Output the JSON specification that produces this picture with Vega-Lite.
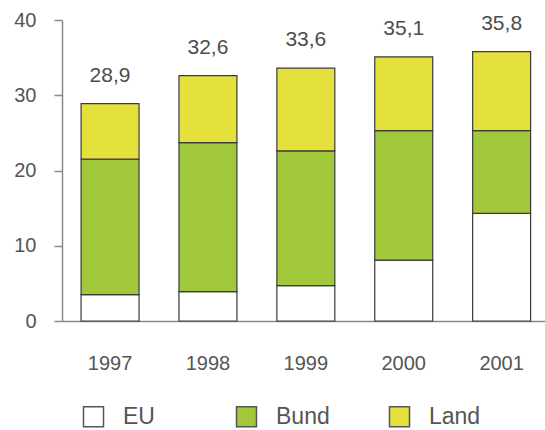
{
  "$schema": "https://vega.github.io/schema/vega-lite/v6.json",
  "width": 483,
  "height": 301,
  "autosize": {"type": "none"},
  "padding": {"left": 62, "top": 20, "right": 0, "bottom": 109},
  "background": "#ffffff",
  "config": {"view": {"stroke": null}, "font": "Liberation Sans"},
  "datasets": {
    "parts": [
      {"Jahr": "1997", "Typ": "EU", "Rang": 1, "Wert": 3.5},
      {"Jahr": "1997", "Typ": "Bund", "Rang": 2, "Wert": 18.0},
      {"Jahr": "1997", "Typ": "Land", "Rang": 3, "Wert": 7.4},
      {"Jahr": "1998", "Typ": "EU", "Rang": 1, "Wert": 3.9},
      {"Jahr": "1998", "Typ": "Bund", "Rang": 2, "Wert": 19.8},
      {"Jahr": "1998", "Typ": "Land", "Rang": 3, "Wert": 8.9},
      {"Jahr": "1999", "Typ": "EU", "Rang": 1, "Wert": 4.7},
      {"Jahr": "1999", "Typ": "Bund", "Rang": 2, "Wert": 17.9},
      {"Jahr": "1999", "Typ": "Land", "Rang": 3, "Wert": 11.0},
      {"Jahr": "2000", "Typ": "EU", "Rang": 1, "Wert": 8.1},
      {"Jahr": "2000", "Typ": "Bund", "Rang": 2, "Wert": 17.2},
      {"Jahr": "2000", "Typ": "Land", "Rang": 3, "Wert": 9.8},
      {"Jahr": "2001", "Typ": "EU", "Rang": 1, "Wert": 14.3},
      {"Jahr": "2001", "Typ": "Bund", "Rang": 2, "Wert": 11.0},
      {"Jahr": "2001", "Typ": "Land", "Rang": 3, "Wert": 10.5}
    ],
    "totals": [
      {"Jahr": "1997", "Summe": 28.9, "Label": "28,9"},
      {"Jahr": "1998", "Summe": 32.6, "Label": "32,6"},
      {"Jahr": "1999", "Summe": 33.6, "Label": "33,6"},
      {"Jahr": "2000", "Summe": 35.1, "Label": "35,1"},
      {"Jahr": "2001", "Summe": 35.8, "Label": "35,8"}
    ]
  },
  "layer": [
    {
      "data": {"name": "parts"},
      "mark": {"type": "bar", "stroke": "#3a3a3a", "strokeWidth": 1.2},
      "encoding": {
        "x": {
          "field": "Jahr", "type": "nominal",
          "scale": {"paddingInner": 0.408, "paddingOuter": 0.171, "align": 0.57},
          "axis": {"title": null, "labelAngle": 0, "ticks": false, "labelFontSize": 20, "labelColor": "#555555", "labelPadding": 32, "domainColor": "#888888", "domainWidth": 1.5, "grid": false}
        },
        "y": {
          "field": "Wert", "type": "quantitative", "stack": "zero",
          "scale": {"domain": [0, 40], "nice": false},
          "axis": {"title": null, "values": [0, 10, 20, 30, 40], "grid": false, "labelFontSize": 20, "labelColor": "#555555", "labelPadding": 18, "tickSize": 8, "tickWidth": 1.5, "tickColor": "#888888", "domainColor": "#888888", "domainWidth": 1.5}
        },
        "fill": {
          "field": "Typ", "type": "nominal",
          "scale": {"domain": ["EU", "Bund", "Land"], "range": ["#ffffff", "#a0c83a", "#e4e03c"]},
          "legend": {"title": null, "orient": "none", "legendX": 20, "legendY": 385, "direction": "horizontal", "columns": 3, "symbolType": "square", "symbolSize": 400, "symbolStrokeColor": "#555555", "symbolStrokeWidth": 1.5, "symbolOpacity": 1, "labelFontSize": 23, "labelColor": "#555555", "labelOffset": 18, "columnPadding": 56, "gridAlign": "all"}
        },
        "order": {"field": "Rang", "type": "quantitative"}
      }
    },
    {
      "data": {"name": "totals"},
      "mark": {"type": "text", "dy": -28, "fontSize": 21, "color": "#4d4d4d", "baseline": "middle"},
      "encoding": {
        "x": {"field": "Jahr", "type": "nominal"},
        "y": {"field": "Summe", "type": "quantitative"},
        "text": {"field": "Label"}
      }
    }
  ]
}
